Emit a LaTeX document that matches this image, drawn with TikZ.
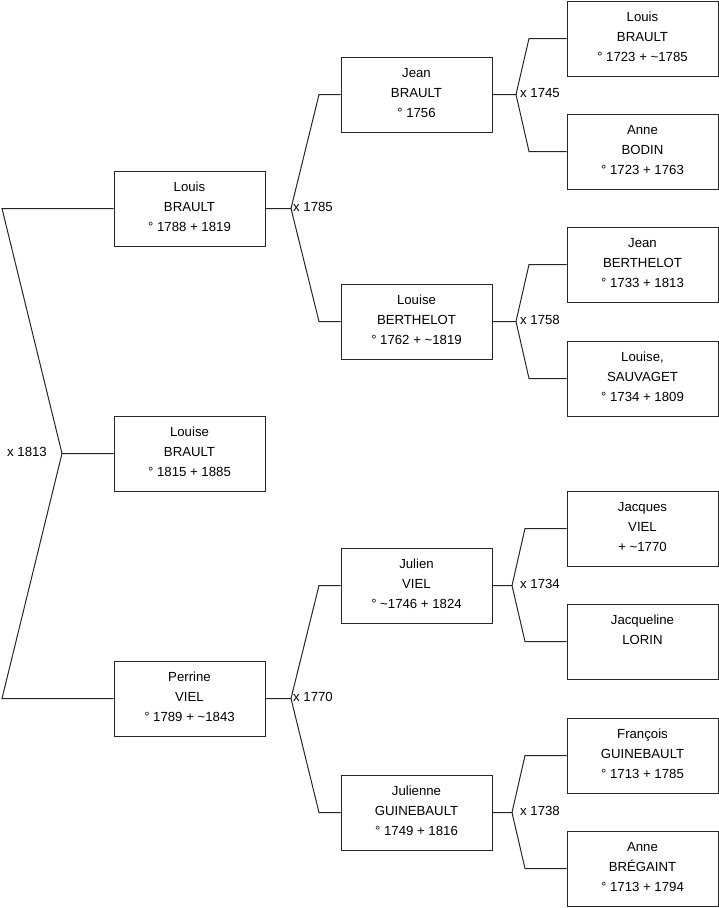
\documentclass[tikz,border=0pt]{standalone}
\usepackage{fontspec}
\setmainfont{Liberation Sans}
\newcommand\pers[3]{\parbox[c][75pt][t]{151pt}{\centering\baselineskip=20pt\rule{0pt}{20pt}#1\\#2\\#3}}
\newcommand\tl{\textasciitilde}
\begin{document}
\begin{tikzpicture}[x=1pt,y=-1pt,
  line/.style={draw=black!85, line width=1pt},
  pbox/.style={draw=black!85, line width=1pt, fill=white, inner sep=0pt, minimum width=151pt, minimum height=75pt, font=\fontsize{13.2pt}{20pt}\selectfont},
  lbl/.style={inner sep=0pt, anchor=west, font=\fontsize{13.2pt}{20pt}\selectfont}]
\useasboundingbox (0,0) rectangle (719,908);
% generation 1
\node[pbox] (a1) at (189.5,208.5) {\pers{Louis}{BRAULT}{° 1788 + 1819}};
\node[pbox] (a2) at (189.5,453.5) {\pers{Louise}{BRAULT}{° 1815 + 1885}};
\node[pbox] (a3) at (189.5,698.5) {\pers{Perrine}{VIEL}{° 1789 + \tl1843}};
% generation 2
\node[pbox] (b1) at (416.5,94.5) {\pers{Jean}{BRAULT}{° 1756}};
\node[pbox] (b2) at (416.5,321.5) {\pers{Louise}{BERTHELOT}{° 1762 + \tl1819}};
\node[pbox] (b3) at (416.5,585.5) {\pers{Julien}{VIEL}{° \tl1746 + 1824}};
\node[pbox] (b4) at (416.5,812.5) {\pers{Julienne}{GUINEBAULT}{° 1749 + 1816}};
% generation 3
\node[pbox] (c1) at (642.5,38.5) {\pers{Louis}{BRAULT}{° 1723 + \tl1785}};
\node[pbox] (c2) at (642.5,151.5) {\pers{Anne}{BODIN}{° 1723 + 1763}};
\node[pbox] (c3) at (642.5,264.5) {\pers{Jean}{BERTHELOT}{° 1733 + 1813}};
\node[pbox] (c4) at (642.5,378.5) {\pers{Louise,}{SAUVAGET}{° 1734 + 1809}};
\node[pbox] (c5) at (642.5,528.5) {\pers{Jacques}{VIEL}{+ \tl1770}};
\node[pbox] (c6) at (642.5,641.5) {\pers{Jacqueline}{LORIN}{\mbox{}}};
\node[pbox] (c7) at (642.5,755.5) {\pers{François}{GUINEBAULT}{° 1713 + 1785}};
\node[pbox] (c8) at (642.5,868.5) {\pers{Anne}{BRÉGAINT}{° 1713 + 1794}};
% junction coordinates
\coordinate (e0) at (2,0);
\coordinate (m0) at (62,453.5);
\coordinate (k1) at (319,0);
\coordinate (m1) at (291,208.5);
\coordinate (m2) at (291,698.5);
\coordinate (ka) at (529,0);
\coordinate (kb) at (525,0);
\coordinate (n1) at (516,94.5);
\coordinate (n2) at (516,321.5);
\coordinate (n3) at (512,585.5);
\coordinate (n4) at (512,812.5);
% connectors
\draw[line] (a1.west) -- (a1.west -| e0) -- (m0) -- (a2.west);
\draw[line] (m0) -- (a3.west -| e0) -- (a3.west);
\draw[line] (a1.east) -- (m1) -- (b1.west -| k1) -- (b1.west);
\draw[line] (m1) -- (b2.west -| k1) -- (b2.west);
\draw[line] (a3.east) -- (m2) -- (b3.west -| k1) -- (b3.west);
\draw[line] (m2) -- (b4.west -| k1) -- (b4.west);
\draw[line] (b1.east) -- (n1) -- (c1.west -| ka) -- (c1.west);
\draw[line] (n1) -- (c2.west -| ka) -- (c2.west);
\draw[line] (b2.east) -- (n2) -- (c3.west -| ka) -- (c3.west);
\draw[line] (n2) -- (c4.west -| ka) -- (c4.west);
\draw[line] (b3.east) -- (n3) -- (c5.west -| kb) -- (c5.west);
\draw[line] (n3) -- (c6.west -| kb) -- (c6.west);
\draw[line] (b4.east) -- (n4) -- (c7.west -| kb) -- (c7.west);
\draw[line] (n4) -- (c8.west -| kb) -- (c8.west);
% marriage labels
\node[lbl] (x0) at (7,452) {x 1813};
\node[lbl] (x1) at (293,207) {x 1785};
\node[lbl] (x2) at (293,697) {x 1770};
\node[lbl] (x3) at (520,93) {x 1745};
\node[lbl] (x4) at (520,320) {x 1758};
\node[lbl] (x5) at (520,584) {x 1734};
\node[lbl] (x6) at (520,811) {x 1738};
\end{tikzpicture}
\end{document}
